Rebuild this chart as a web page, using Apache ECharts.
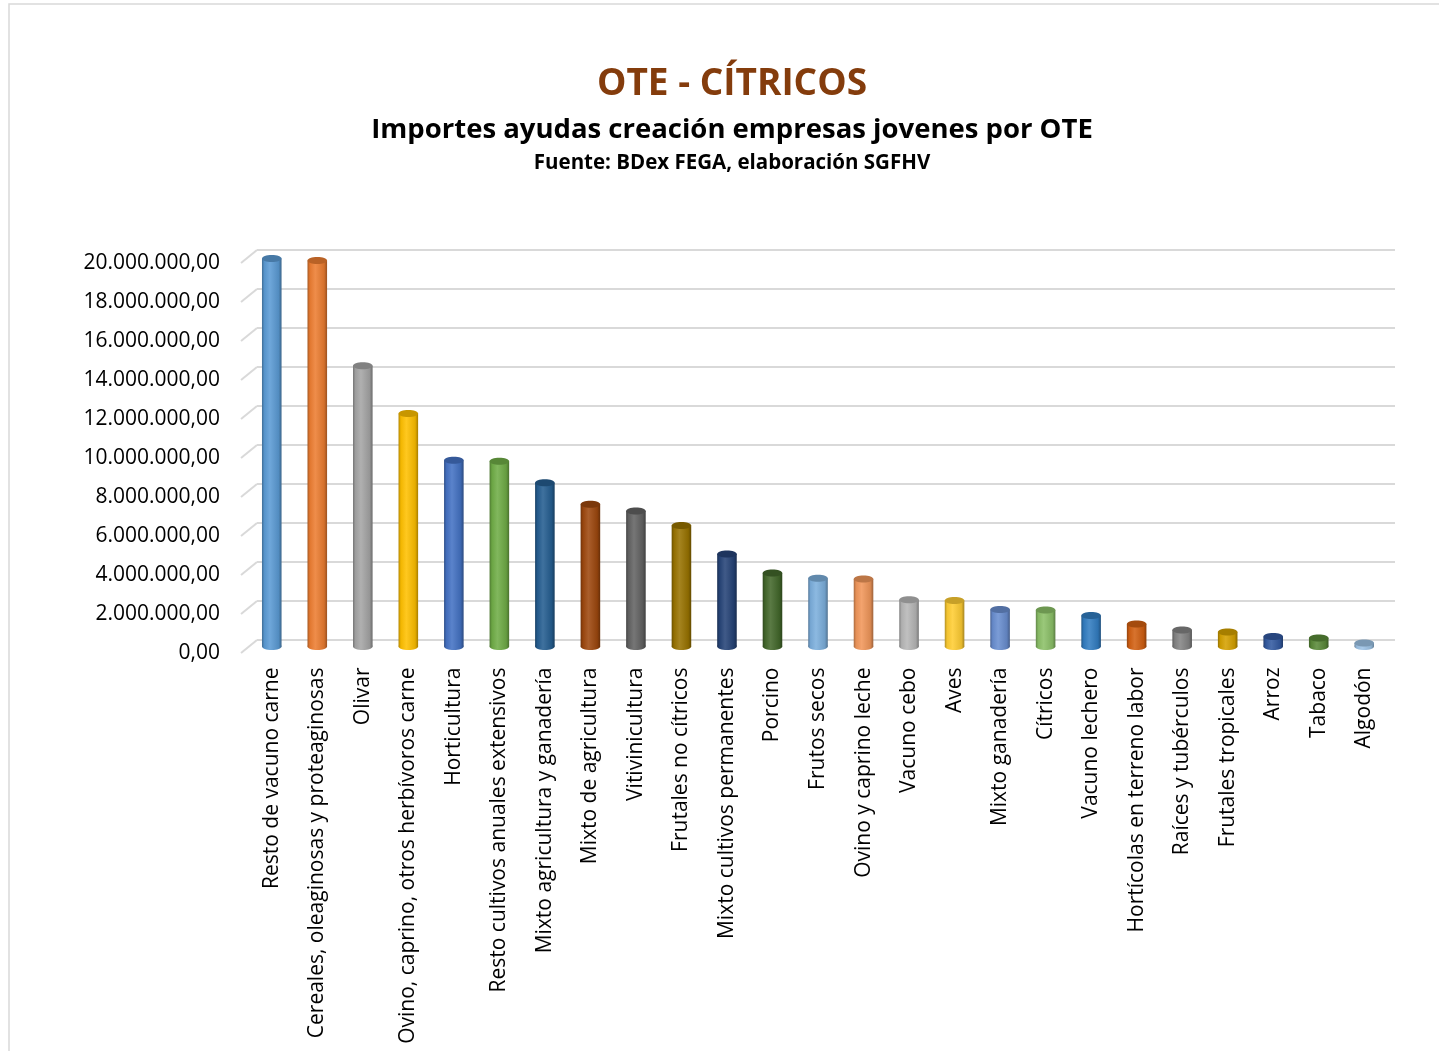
<!DOCTYPE html>
<html>
<head>
<meta charset="utf-8">
<script src="https://cdn.jsdelivr.net/npm/echarts@6/dist/echarts.min.js"></script>
<style>
  html, body { margin: 0; padding: 0; background: #fff; }
  #chart { width: 1439px; height: 1051px; }
</style>
</head>
<body>
<div id="chart"></div>
<script>
// data
const categories = [
  'Resto de vacuno carne', 'Cereales, oleaginosas y proteaginosas', 'Olivar',
  'Ovino, caprino, otros herbívoros carne', 'Horticultura', 'Resto cultivos anuales extensivos',
  'Mixto agricultura y ganadería', 'Mixto de agricultura', 'Vitivinicultura',
  'Frutales no cítricos', 'Mixto cultivos permanentes', 'Porcino', 'Frutos secos',
  'Ovino y caprino leche', 'Vacuno cebo', 'Aves', 'Mixto ganadería', 'Cítricos',
  'Vacuno lechero', 'Hortícolas en terreno labor', 'Raíces y tubérculos',
  'Frutales tropicales', 'Arroz', 'Tabaco', 'Algodón'
];
const importes = [
  19900000, 19800000, 14400000, 11950000, 9550000, 9500000,
  8400000, 7300000, 6950000, 6200000, 4750000, 3770000, 3500000,
  3460000, 2400000, 2360000, 1900000, 1870000, 1590000, 1150000,
  850000, 740000, 510000, 440000, 180000
];
const yTicks = [0, 2000000, 4000000, 6000000, 8000000, 10000000, 12000000, 14000000, 16000000, 18000000, 20000000];

const colors = [
  '#5B9BD5', '#ED7D31', '#A5A5A5', '#FFC000', '#4472C4', '#70AD47',
  '#255E91', '#9E480E', '#636363', '#997300', '#264478', '#43682B',
  '#7CAFDD', '#F1975A', '#B7B7B7', '#FFCD33', '#698ED0', '#8CC168',
  '#327DC2', '#D26012', '#848484', '#D5A100', '#335AA1', '#5A8A39', '#9DC3E6'
];

function shade(hex, f) {
  let r = parseInt(hex.substr(1, 2), 16), g = parseInt(hex.substr(3, 2), 16), b = parseInt(hex.substr(5, 2), 16);
  if (f < 0) {
    r = r * (1 + f); g = g * (1 + f); b = b * (1 + f);
  } else {
    r = r + (255 - r) * f; g = g + (255 - g) * f; b = b + (255 - b) * f;
  }
  return 'rgb(' + Math.round(r) + ',' + Math.round(g) + ',' + Math.round(b) + ')';
}

function fmt(v) {
  let s = String(Math.round(v));
  s = s.replace(/\B(?=(\d{3})+(?!\d))/g, '.');
  return s + ',00';
}

let myChart = echarts.init(document.getElementById('chart'));

let labelFont = 'Open Sans';
let gridColor = '#d9d9d9';

let option = {
  backgroundColor: '#fff',
  animation: false,
  graphic: [{
    type: 'rect',
    shape: { x: 9, y: 4, width: 1440, height: 1060 },
    style: { fill: 'none', stroke: '#d9d9d9', lineWidth: 1.5 },
    silent: true
  }],
  title: [
    {
      text: 'OTE - CÍTRICOS',
      left: 727, top: 79, textAlign: 'center', textVerticalAlign: 'middle',
      textStyle: { fontFamily: labelFont, fontWeight: 'bold', fontSize: 37, color: '#843C0C' }
    },
    {
      text: 'Importes ayudas creación empresas jovenes por OTE',
      left: 727, top: 125, textAlign: 'center', textVerticalAlign: 'middle',
      textStyle: { fontFamily: labelFont, fontWeight: 'bold', fontSize: 27.5, color: '#000' }
    },
    {
      text: 'Fuente: BDex FEGA, elaboración SGFHV',
      left: 727, top: 158, textAlign: 'center', textVerticalAlign: 'middle',
      textStyle: { fontFamily: labelFont, fontWeight: 'bold', fontSize: 20.5, color: '#000' }
    }
  ],
  grid: [
    // back wall (gridlines)
    { left: 257, right: 44, top: 250, bottom: 411 },
    // middle depth (cylinders)
    { left: 249, right: 52, top: 256.5, bottom: 404.5 },
    // front plane (tick labels)
    { left: 241, right: 60, top: 263, bottom: 398 }
  ],
  xAxis: [
    { gridIndex: 0, type: 'category', data: categories, show: false },
    {
      gridIndex: 1, type: 'category', data: categories,
      axisLine: { show: false }, axisTick: { show: false },
      axisLabel: {
        interval: 0, rotate: 90, margin: 21,
        fontFamily: labelFont, fontSize: 21, color: '#000'
      }
    },
    { gridIndex: 2, type: 'category', data: categories, show: false }
  ],
  yAxis: [
    {
      gridIndex: 0, type: 'value', min: 0, max: 20000000, interval: 2000000,
      axisLine: { show: false }, axisTick: { show: false }, axisLabel: { show: false },
      splitLine: { show: true, lineStyle: { color: gridColor, width: 2 } }
    },
    {
      gridIndex: 1, type: 'value', min: 0, max: 20000000, interval: 2000000,
      show: false, splitLine: { show: false }
    },
    {
      gridIndex: 2, type: 'value', min: 0, max: 20000000, interval: 2000000,
      axisLine: { show: false }, axisTick: { show: false },
      splitLine: { show: false },
      axisLabel: {
        margin: 21, fontFamily: labelFont, fontSize: 21, color: '#000',
        formatter: fmt
      }
    }
  ],
  series: [
    {
      // diagonal stubs joining front labels with back wall gridlines
      type: 'custom',
      xAxisIndex: 2, yAxisIndex: 2,
      silent: true,
      data: yTicks.map(function (t) { return [0, t]; }),
      renderItem: function (params, api) {
        let p = api.coord([0, api.value(1)]);
        let x0 = params.coordSys.x;
        return {
          type: 'line',
          shape: { x1: x0, y1: p[1], x2: x0 + 16, y2: p[1] - 13 },
          style: { stroke: gridColor, lineWidth: 2 }
        };
      }
    },
    {
      name: 'Importes',
      type: 'custom',
      xAxisIndex: 1, yAxisIndex: 1,
      data: importes.map(function (v, i) { return [i, v]; }),
      renderItem: function (params, api) {
        let i = api.value(0);
        let top = api.coord([i, api.value(1)]);
        let base = api.coord([i, 0]);
        let w = api.size([1, 0])[0] * 0.43;
        let rx = w / 2, ry = 3.5;
        let c = colors[params.dataIndex];
        let body = new echarts.graphic.LinearGradient(0, 0, 1, 0, [
          { offset: 0, color: shade(c, -0.3) },
          { offset: 0.12, color: shade(c, -0.05) },
          { offset: 0.4, color: shade(c, 0.12) },
          { offset: 0.85, color: shade(c, -0.1) },
          { offset: 1, color: shade(c, -0.35) }
        ]);
        return {
          type: 'group',
          children: [
            { type: 'ellipse', shape: { cx: base[0], cy: base[1], rx: rx, ry: ry }, style: { fill: body } },
            { type: 'rect', shape: { x: top[0] - rx, y: top[1], width: w, height: base[1] - top[1] }, style: { fill: body } },
            { type: 'ellipse', shape: { cx: top[0], cy: top[1], rx: rx, ry: ry }, style: { fill: shade(c, -0.22) } }
          ]
        };
      }
    }
  ]
};
myChart.setOption(option);

window.addEventListener('resize', function () {
  myChart.resize();
});
</script>
</body>
</html>
